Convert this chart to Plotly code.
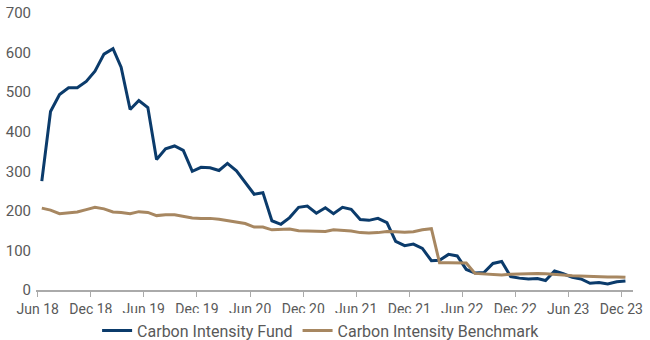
import pandas as pd
import plotly.graph_objects as go

# Monthly observations, June 2018 to December 2023 (plotted mid-month)
months = pd.date_range("2018-06-01", "2023-12-01", freq="MS") + pd.Timedelta(days=14)

fund = [
    275, 451, 494, 511, 511, 527, 553, 596, 610, 563, 456, 479,
    461, 330, 357, 364, 353, 300, 310, 309, 302, 320, 301, 272,
    242, 246, 175, 166, 183, 209, 212, 194, 208, 193, 209, 204,
    178, 176, 181, 170, 123, 112, 116, 105, 74, 75, 90, 86,
    52, 43, 44, 67, 72, 34, 30, 28, 29, 24, 48, 41,
    32, 28, 17, 19, 15, 21, 23,
]

benchmark = [
    207, 202, 193, 195, 197, 203, 209, 205, 197, 196, 193, 198,
    196, 188, 190, 190, 187, 182, 181, 181, 179, 176, 171, 168,
    159, 159, 152, 153, 154, 150, 149, 148, 148, 152, 151, 149,
    145, 144, 145, 148, 147, 146, 147, 152, 155, 69, 69, 69,
    68, 42, 41, 40, 38, 40, 41, 42, 42, 41, 40, 38,
    36, 35, 34, 34, 33, 33, 32,
]

series_names = ["Carbon Intensity Fund", "Carbon Intensity Benchmark"]
series_colors = ["#0b3b6b", "#a78761"]

fig = go.Figure()
for name, values, color in zip(series_names, [fund, benchmark], series_colors):
    fig.add_trace(go.Scatter(
        x=months, y=values, name=name, mode="lines",
        line=dict(color=color, width=3),
    ))

fig.update_layout(
    width=650, height=340,
    margin=dict(l=36, r=17, t=13, b=50, autoexpand=False),
    paper_bgcolor="white", plot_bgcolor="white",
    font=dict(family="Roboto", size=14, color="#595959"),
    showlegend=True,
    legend=dict(
        orientation="h", x=0.494, xanchor="center", xref="container",
        y=0.028, yanchor="middle", yref="container",
        font=dict(size=16, color="#595959"),
        itemwidth=30, tracegroupgap=0,
    ),
)

fig.update_xaxes(
    type="date",
    range=["2018-05-26", "2024-01-10"],
    tick0="2018-06-01", dtick="M6", tickformat="%b %y",
    showgrid=False, zeroline=False,
    showline=True, linecolor="#aaaaaa", linewidth=1.5,
    ticks="outside", ticklen=5, tickcolor="#aaaaaa", tickwidth=1,
    tickfont=dict(size=14, color="#595959"),
)

fig.update_yaxes(
    range=[0, 700], dtick=100,
    showgrid=False, zeroline=False, showline=False,
    ticks="", ticklabelstandoff=4,
    tickfont=dict(size=15, color="#595959"),
)

fig.write_html("out.html")
